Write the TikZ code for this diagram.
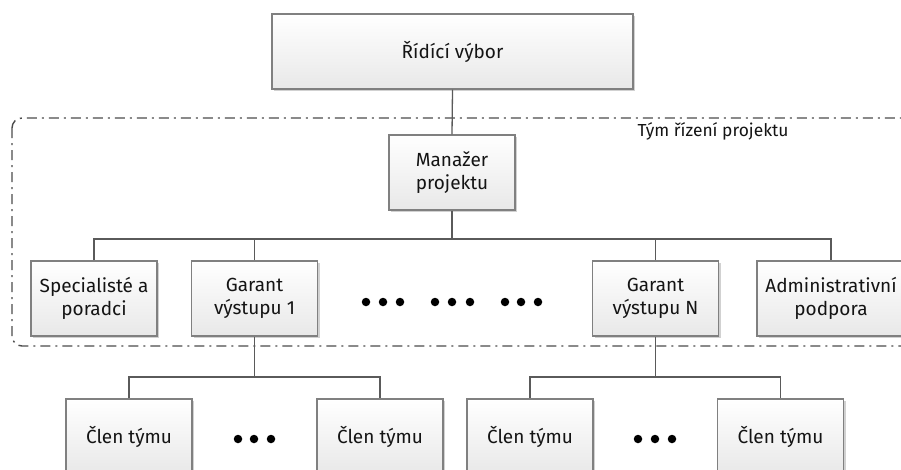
\documentclass[tikz,border=0pt]{standalone}
\usepackage{fontspec}
\setmainfont{Fira Sans}
\usetikzlibrary{shadows}
\definecolor{boxline}{HTML}{808080}
\definecolor{conn}{HTML}{5A5A5A}
\definecolor{txt}{HTML}{141414}
\begin{document}
\begin{tikzpicture}[x=1pt,y=-1pt,
  box/.style={draw=boxline, line width=1.4pt, top color=white, bottom color=black!9,
    minimum width=126pt, minimum height=75pt, inner sep=0pt, align=center,
    text=txt, font=\fontsize{19pt}{23pt}\selectfont,
    drop shadow={shadow xshift=2pt, shadow yshift=-2pt, fill=black!30, opacity=0.6}},
  conn/.style={draw=conn, line width=1.3pt},
  dot/.style={circle, fill=black, inner sep=0pt, minimum size=8.5pt},
  team/.style={draw=black!70, line width=1.4pt, dash pattern=on 10pt off 5pt on 2pt off 5pt, rounded corners=10pt}
]
\useasboundingbox (0,0) rectangle (901,469);
% team frame
\draw[team] (12,118) rectangle (930,346);
\node[anchor=west, text=txt, font=\fontsize{17.4pt}{21pt}\selectfont] (lbl) at (634,131) {Tým řízení projektu};
% boxes
\node[box, minimum width=361pt] (rv) at (452.5,51.5) {Řídící výbor};
\node[box] (mp) at (452,172.5) {Manažer\\projektu};
\node[box] (sp) at (94,298.5) {Specialisté a\\poradci};
\node[box] (g1) at (254.5,298.5) {Garant\\výstupu 1};
\node[box] (gN) at (655.5,298.5) {Garant\\výstupu N};
\node[box, minimum width=148pt] (ad) at (831,298.5) {Administrativní\\podpora};
\node[box] (c1) at (129,436.5) {Člen týmu};
\node[box] (c2) at (380,436.5) {Člen týmu};
\node[box] (c3) at (530,436.5) {Člen týmu};
\node[box] (c4) at (780.5,436.5) {Člen týmu};
% dots
\foreach \n/\x/\y in {a1/366/302,a2/383/302,a3/400/302,b1/435/302,b2/452/302,b3/470/302,
  d1/505/302,d2/521/302,d3/538/302,e1/238/439,e2/254/439,e3/271/439,f1/638/439,f2/655/439,f3/672/439}
  \node[dot] (\n) at (\x,\y) {};
% connectors
\coordinate (bus1) at (452,239);
\coordinate (bus2) at (254.5,377);
\coordinate (bus3) at (655.5,377);
\draw[conn] (rv.south) -- (mp.north);
\draw[conn] (mp.south) -- (bus1);
\draw[conn] (sp.north) |- (bus1) -| (ad.north);
\draw[conn] (g1.north) -- (g1.north |- bus1);
\draw[conn] (gN.north) -- (gN.north |- bus1);
\draw[conn] (g1.south) -- (bus2);
\draw[conn] (c1.north) |- (bus2) -| (c2.north);
\draw[conn] (gN.south) -- (bus3);
\draw[conn] (c3.north) |- (bus3) -| (c4.north);
\end{tikzpicture}
\end{document}
